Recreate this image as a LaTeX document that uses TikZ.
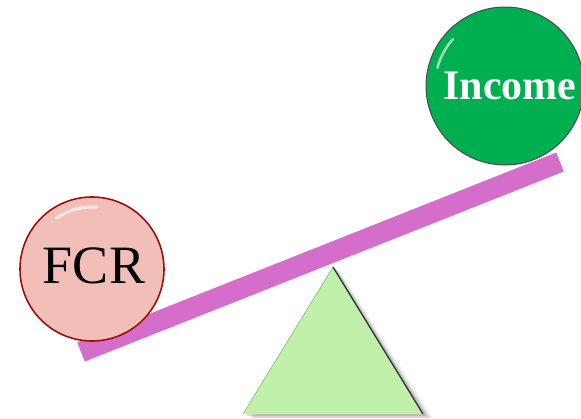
\documentclass[tikz,border=0pt]{standalone}
\usepackage{fontspec}
\setmainfont{Liberation Serif}
\usetikzlibrary{calc}
\definecolor{barpink}{HTML}{D56DCB}
\definecolor{incgreen}{HTML}{00B050}
\definecolor{fcrpink}{HTML}{F2BFB8}
\definecolor{fcrrim}{HTML}{9A1010}
\definecolor{trigreen}{HTML}{C0F0AA}
\tikzset{
  ball/.style={circle, inner sep=0pt},
  hilite/.style={white, line width=3pt, opacity=0.6, line cap=round}
}
\begin{document}
\begin{tikzpicture}[x=1pt,y=-1pt]
\useasboundingbox (0,0) rectangle (581,418);
% beam
\coordinate (bl) at (81,352);
\coordinate (br) at (560,162);
\draw[barpink, line width=20.5pt] (bl) -- (br);
% fulcrum shadow
\fill[black, opacity=0.06] (339,270) -- (433,418) -- (253,418) -- cycle;
\fill[black, opacity=0.10] (337,269) -- (430,418) -- (250,418) -- cycle;
\fill[black, opacity=0.14] (335,268) -- (427,416) -- (247,416) -- cycle;
% fulcrum
\coordinate (ta) at (333,267);
\coordinate (tl) at (243,414);
\coordinate (tr) at (423,414);
\fill[trigreen] (ta) -- (tr) -- (tl) -- cycle;
\draw[green!40!black!70, line width=0.6pt, opacity=0.6] (tl) -- (ta);
\draw[black!80, line width=1.3pt] (ta) -- (tr);
% FCR ball
\node[ball, minimum size=144pt, fill=fcrpink, draw=fcrrim, line width=1.6pt] (fcr) at (92,269) {};
\draw[hilite] ($(fcr)+(235:62)$) arc[start angle=235, end angle=275, radius=62];
\node[font=\fontsize{54}{54}\selectfont, text=black] (fcrtext) at (94,266) {FCR};
% Income ball
\node[ball, minimum size=158pt, fill=incgreen, draw=black!70, line width=1pt] (inc) at (505,86) {};
\draw[hilite, line width=2.5pt] ($(inc)+(195:70)$) arc[start angle=195, end angle=222, radius=70];
\node[font=\fontsize{42}{42}\selectfont\bfseries, text=white] (inctext) at (510,86) {Income};
\end{tikzpicture}
\end{document}
